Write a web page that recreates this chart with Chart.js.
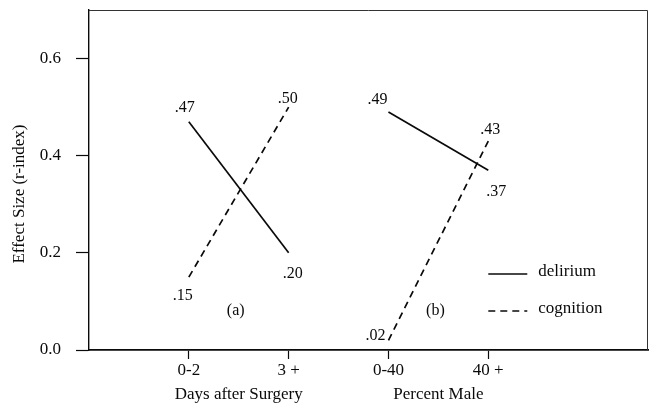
<!DOCTYPE html>
<html lang="en">
<head>
    <meta charset="UTF-8">
    <script src="https://cdn.jsdelivr.net/npm/chart.js"></script>
    <title>Effect Size</title>
    <style>
        html, body { margin: 0; padding: 0; background: #fff; }
        #box { width: 649px; height: 404px; }
    </style>
</head>
<body>
    <div id="box">
        <canvas id="effect"></canvas>
    </div>
<script>
    const categories = ['0-2', '3 +', '0-40', '40 +'];
    const delirium = [0.47, 0.20, 0.49, 0.37];
    const cognition = [0.15, 0.50, 0.02, 0.43];
    const yTicks = [0.0, 0.2, 0.4, 0.6];
    const groupTitles = ['Days after Surgery', 'Percent Male'];
    const panelNames = ['(a)', '(b)'];
    const seriesNames = ['delirium', 'cognition'];
    const yTitle = 'Effect Size (r-index)';

    const serif = '"Liberation Serif", "Times New Roman", serif';
    const ink = '#0a0a0a';

    // one segment per panel: points 0-1 and 2-3
    function segment(values, start, dashed) {
        return {
            data: [
                { x: start + 1, y: values[start] },
                { x: start + 2, y: values[start + 1] }
            ],
            borderColor: ink,
            borderWidth: 1.7,
            borderDash: dashed ? [7, 5] : [],
            pointRadius: 0,
            fill: false
        };
    }

    const datasets = [
        segment(delirium, 0, false),
        segment(cognition, 0, true),
        segment(delirium, 2, false),
        segment(cognition, 2, true)
    ];

    // label offsets (px) from each point
    const delOff = [[-4, -14], [4, 21], [-11, -12], [8, 22]];
    const cogOff = [[-6, 19], [-1, -8], [-13, -4], [2, -11]];

    const extras = {
        id: 'extras',
        afterDraw(chart) {
            const ctx = chart.ctx;
            const a = chart.chartArea;
            const x = chart.scales.x;
            const y = chart.scales.y;
            ctx.save();

            // top and right frame
            ctx.strokeStyle = '#333';
            ctx.lineWidth = 1;
            ctx.beginPath();
            ctx.moveTo(a.left, a.top + 0.5);
            ctx.lineTo(a.right - 0.5, a.top + 0.5);
            ctx.lineTo(a.right - 0.5, a.bottom);
            ctx.stroke();

            ctx.fillStyle = ink;
            ctx.textAlign = 'center';
            ctx.textBaseline = 'middle';

            // y title
            ctx.save();
            ctx.font = '17px ' + serif;
            ctx.translate(20, 194);
            ctx.rotate(-Math.PI / 2);
            ctx.fillText(yTitle, 0, 0);
            ctx.restore();

            ctx.font = '16px ' + serif;
            const fmt = v => v.toFixed(2).slice(1);
            categories.forEach((c, i) => {
                const px = x.getPixelForValue(i + 1);
                ctx.fillText(fmt(delirium[i]), px + delOff[i][0], y.getPixelForValue(delirium[i]) + delOff[i][1]);
                ctx.fillText(fmt(cognition[i]), px + cogOff[i][0], y.getPixelForValue(cognition[i]) + cogOff[i][1]);
            });

            // panel names and group titles
            panelNames.forEach((p, i) => {
                const px = x.getPixelForValue(2 * i + 1.5);
                ctx.font = '16px ' + serif;
                ctx.fillText(p, px - 3, 311);
                ctx.font = '17px ' + serif;
                ctx.fillText(groupTitles[i], px, 395);
            });

            // legend
            ctx.font = '17px ' + serif;
            const lx = x.getPixelForValue(4);
            seriesNames.forEach((s, i) => {
                const ly = 274 + i * 37;
                ctx.beginPath();
                ctx.setLineDash(i ? [7, 5] : []);
                ctx.lineWidth = 1.7;
                ctx.strokeStyle = ink;
                ctx.moveTo(lx, ly);
                ctx.lineTo(lx + 39, ly);
                ctx.stroke();
                ctx.textAlign = 'left';
                ctx.fillText(s, lx + 50, ly - 2);
            });
            ctx.restore();
        }
    };

    new Chart(document.getElementById('effect').getContext('2d'), {
        type: 'line',
        data: { datasets: datasets },
        options: {
            responsive: true,
            maintainAspectRatio: false,
            animation: false,
            layout: { padding: { top: 10, right: 1, left: 0, bottom: 0 } },
            plugins: {
                legend: { display: false },
                tooltip: { enabled: false }
            },
            scales: {
                x: {
                    type: 'linear',
                    min: 0,
                    max: 5.6,
                    afterBuildTicks: s => { s.ticks = categories.map((c, i) => ({ value: i + 1 })); },
                    afterFit: s => { s.height = 54; s.paddingLeft = 0; s.paddingRight = 0; },
                    ticks: {
                        callback: v => categories[v - 1],
                        color: ink,
                        font: { family: serif, size: 17 },
                        padding: 1,
                        maxRotation: 0,
                        autoSkip: false
                    },
                    grid: { drawOnChartArea: false, tickLength: 9, color: ink, tickWidth: 1.2 },
                    border: { color: ink, width: 1.8 }
                },
                y: {
                    min: 0,
                    max: 0.7,
                    afterBuildTicks: s => { s.ticks = yTicks.map(v => ({ value: v })); },
                    afterFit: s => { s.width = 89; s.paddingTop = 0; s.paddingBottom = 0; },
                    ticks: {
                        callback: v => v.toFixed(1),
                        color: ink,
                        font: { family: serif, size: 17 },
                        padding: 15
                    },
                    grid: { drawOnChartArea: false, tickLength: 13, color: ink, tickWidth: 1.2 },
                    border: { color: ink, width: 1.4 }
                }
            }
        },
        plugins: [extras]
    });
</script>
</body>
</html>
